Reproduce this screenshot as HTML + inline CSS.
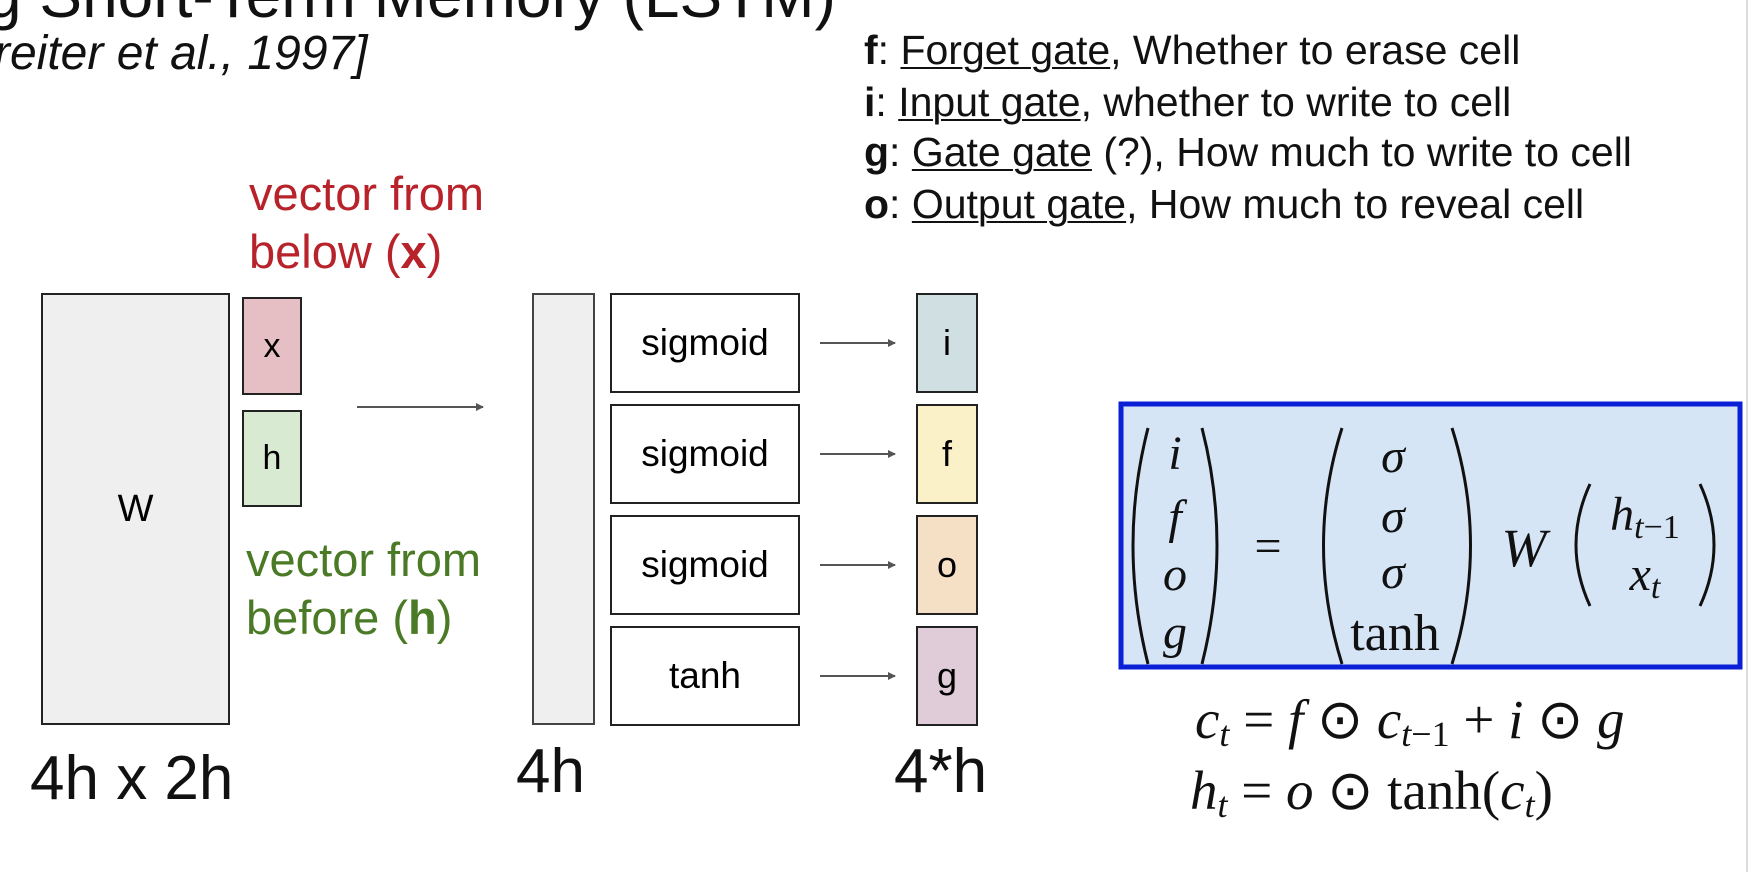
<!DOCTYPE html>
<html><head><meta charset="utf-8"><style>
body{margin:0;width:1754px;height:872px;background:#fff;position:relative;overflow:hidden;font-family:"Liberation Sans",sans-serif;}
.a{position:absolute;white-space:nowrap;}
.box{position:absolute;box-sizing:border-box;border:2px solid #222;}
.c{display:flex;align-items:center;justify-content:center;}
u{text-decoration:underline;text-decoration-thickness:2px;text-underline-offset:3px;}
.li{font-size:41px;color:#111;letter-spacing:0px;}
</style></head><body>
<div class="a" style="left:-14px;top:-42px;font-size:64px;color:#111;">g Short-Term Memory (LSTM)</div>
<div class="a" style="left:-6px;top:26px;font-size:48px;font-style:italic;color:#111;">reiter et al., 1997]</div>

<div class="a li" style="left:864px;top:27px;"><b>f</b>: <u>Forget gate</u>, Whether to erase cell</div>
<div class="a li" style="left:864px;top:79px;"><b>i</b>: <u>Input gate</u>, whether to write to cell</div>
<div class="a li" style="left:864px;top:129px;"><b>g</b>: <u>Gate gate</u> (?), How much to write to cell</div>
<div class="a li" style="left:864px;top:181px;"><b>o</b>: <u>Output gate</u>, How much to reveal cell</div>

<div class="a" style="left:249px;top:165px;font-size:47px;line-height:58px;color:#b8232b;">vector from<br>below (<b>x</b>)</div>
<div class="a" style="left:246px;top:531px;font-size:47px;line-height:58px;color:#4a7a26;">vector from<br>before (<b>h</b>)</div>

<div class="box c" style="left:41px;top:293px;width:189px;height:432px;background:#efefef;font-size:38px;">W</div>
<div class="box c" style="left:242px;top:297px;width:60px;height:98px;background:#e6bfc4;font-size:34px;">x</div>
<div class="box c" style="left:242px;top:410px;width:60px;height:97px;background:#d9ead3;font-size:34px;">h</div>

<div class="box" style="left:532px;top:293px;width:63px;height:432px;background:#efefef;border-color:#444;"></div>
<div class="box c" style="left:610px;top:293px;width:190px;height:100px;background:#fff;font-size:37px;">sigmoid</div>
<div class="box c" style="left:610px;top:404px;width:190px;height:100px;background:#fff;font-size:37px;">sigmoid</div>
<div class="box c" style="left:610px;top:515px;width:190px;height:100px;background:#fff;font-size:37px;">sigmoid</div>
<div class="box c" style="left:610px;top:626px;width:190px;height:100px;background:#fff;font-size:37px;">tanh</div>

<div class="box c" style="left:916px;top:293px;width:62px;height:100px;background:#d0dfe1;font-size:36px;">i</div>
<div class="box c" style="left:916px;top:404px;width:62px;height:100px;background:#fbf1c8;font-size:36px;">f</div>
<div class="box c" style="left:916px;top:515px;width:62px;height:100px;background:#f5dfc5;font-size:36px;">o</div>
<div class="box c" style="left:916px;top:626px;width:62px;height:100px;background:#e0cbd8;font-size:36px;">g</div>

<svg class="a" style="left:0;top:0" width="1754" height="872">
<defs><marker id="ar" markerWidth="8" markerHeight="8" refX="7" refY="4" orient="auto" markerUnits="userSpaceOnUse"><path d="M0,0L8,4L0,8z" fill="#555"/></marker></defs>
<g stroke="#555" stroke-width="2" marker-end="url(#ar)">
<line x1="357" y1="407" x2="483" y2="407"/>
<line x1="820" y1="343" x2="895" y2="343"/>
<line x1="820" y1="454" x2="895" y2="454"/>
<line x1="820" y1="565" x2="895" y2="565"/>
<line x1="820" y1="676" x2="895" y2="676"/>
</g>
<rect x="1121" y="404" width="619" height="263" fill="#d5e5f6" stroke="#0a1fd6" stroke-width="5"/>
<g fill="none" stroke="#111" stroke-width="3">
<path d="M1148,428 Q1118,545 1148,664"/>
<path d="M1202,428 Q1232,545 1202,664"/>
<path d="M1342,428 Q1305,545 1342,664"/>
<path d="M1452,428 Q1489,545 1452,664"/>
<path d="M1590,484 Q1562,545 1590,606"/>
<path d="M1700,484 Q1728,545 1700,606"/>
</g>
<g font-family="Liberation Serif,serif" font-size="48" fill="#111" text-anchor="middle">
<text x="1175" y="469" font-style="italic">i</text>
<text x="1175" y="533" font-style="italic">f</text>
<text x="1175" y="590" font-style="italic">o</text>
<text x="1175" y="648" font-style="italic">g</text>
<text x="1268" y="562">=</text>
<text x="1393" y="472" font-style="italic">σ</text>
<text x="1393" y="532" font-style="italic">σ</text>
<text x="1393" y="588" font-style="italic">σ</text>
<text x="1395" y="650" font-size="52">tanh</text>
<text x="1524" y="566" font-style="italic" font-size="54">W</text>
<text x="1645" y="530"><tspan font-style="italic">h</tspan><tspan font-size="34" dy="8" font-style="italic">t</tspan><tspan font-size="34">−1</tspan></text>
<text x="1645" y="590"><tspan font-style="italic">x</tspan><tspan font-size="34" dy="8" font-style="italic">t</tspan></text>
</g>
<g font-family="Liberation Serif,serif" font-size="55" fill="#111">
<text x="1195" y="738"><tspan font-style="italic">c</tspan><tspan font-size="36" dy="8" font-style="italic">t</tspan><tspan dy="-8"> = </tspan><tspan font-style="italic">f</tspan><tspan> ⊙ </tspan><tspan font-style="italic">c</tspan><tspan font-size="36" dy="8" font-style="italic">t</tspan><tspan font-size="36">−1</tspan><tspan dy="-8"> + </tspan><tspan font-style="italic">i</tspan><tspan> ⊙ </tspan><tspan font-style="italic">g</tspan></text>
<text x="1190" y="809"><tspan font-style="italic">h</tspan><tspan font-size="36" dy="8" font-style="italic">t</tspan><tspan dy="-8"> = </tspan><tspan font-style="italic">o</tspan><tspan> ⊙ tanh(</tspan><tspan font-style="italic">c</tspan><tspan font-size="36" dy="8" font-style="italic">t</tspan><tspan dy="-8">)</tspan></text>
</g>
<line x1="1747" y1="0" x2="1747" y2="872" stroke="#ddd" stroke-width="2"/>
</svg>

<div class="a" style="left:30px;top:743px;font-size:62px;color:#111;">4h x 2h</div>
<div class="a" style="left:516px;top:736px;font-size:62px;color:#111;">4h</div>
<div class="a" style="left:894px;top:736px;font-size:62px;color:#111;">4*h</div>
</body></html>
